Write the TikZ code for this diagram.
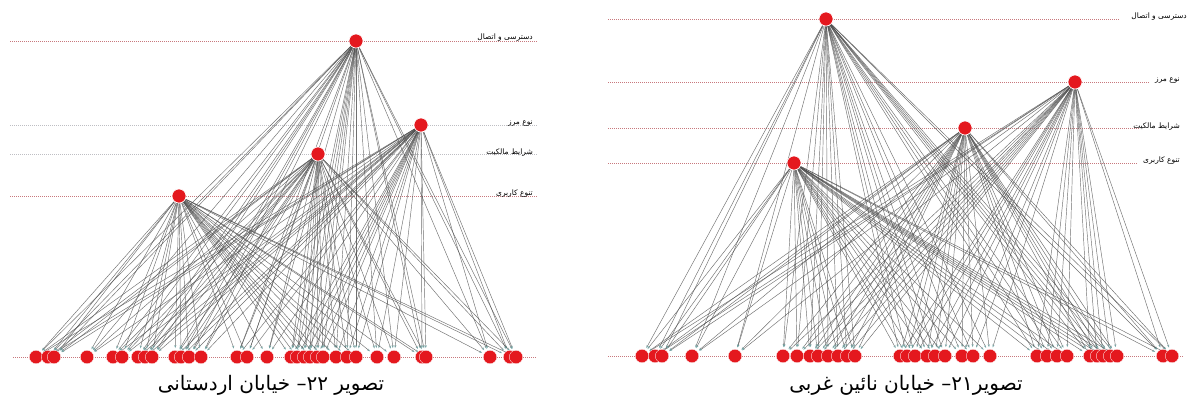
\documentclass[tikz,border=0pt]{standalone}
\usepackage{fontspec}
\newfontfamily\arabicfont[Script=Arabic]{DejaVu Sans}
\TeXXeTstate=1
\usetikzlibrary{arrows.meta,backgrounds}
\definecolor{nodered}{RGB}{228,24,30}
\definecolor{lvlred}{RGB}{200,120,125}
\definecolor{lvlgray}{RGB}{190,190,195}
\definecolor{tipcol}{RGB}{110,160,160}
\tikzset{
  bnode/.style={circle,fill=nodered,draw=white,line width=0.3pt,minimum size=13.5pt,inner sep=0pt},
  hub/.style={circle,fill=nodered,draw=white,line width=0.6pt,minimum size=14pt,inner sep=0pt},
  link/.style={draw=black!70,line width=0.45pt,opacity=0.8,-{Stealth[length=3pt,width=2.2pt,color=tipcol]},shorten >=2pt},
  lvlr/.style={draw=lvlred,line width=0.6pt,dash pattern=on 1pt off 1pt},
  lvlg/.style={draw=lvlgray,line width=0.6pt,dash pattern=on 1pt off 1pt},
  lab/.style={font=\arabicfont\fontsize{7.5}{9}\selectfont,inner sep=1pt,anchor=east},
  captext/.style={font=\arabicfont\fontsize{20}{24}\selectfont,inner sep=0pt}
}
\begin{document}
\begin{tikzpicture}[x=1pt,y=-1pt]
\useasboundingbox (0,0) rectangle (1189,410);
% ---------- left diagram ----------
\node[hub] (LA) at (356,41) {};
\node[hub] (LB) at (421,125) {};
\node[hub] (LC) at (318,154) {};
\node[hub] (LD) at (179,196) {};
\foreach \x [count=\i] in {36,48,54,87,113,122,138,145,152,175,181,189,201,237,247,267,291,297,304,310,317,323,336,347,356,377,394,422,426,490,510,516}
  \node[bnode] (L\i) at (\x,357) {};
\coordinate (LAa) at (10,41);   \coordinate (LAb) at (537,41);
\coordinate (LBa) at (10,125);  \coordinate (LBb) at (537,125);
\coordinate (LCa) at (10,154);  \coordinate (LCb) at (537,154);
\coordinate (LDa) at (10,196);  \coordinate (LDb) at (537,196);
\coordinate (LEa) at (13,357);  \coordinate (LEb) at (537,357);
\node[lab] (tLA) at (534,38) {\beginR دسترسی و اتصال\endR};
\node[lab] (tLB) at (534,123) {\beginR نوع مرز\endR};
\node[lab] (tLC) at (534,153) {\beginR شرایط مالکیت\endR};
\node[lab] (tLD) at (534,194) {\beginR تنوع کاربری\endR};
% ---------- right diagram ----------
\node[hub] (RA) at (826,19) {};
\node[hub] (RB) at (1075,82) {};
\node[hub] (RC) at (965,128) {};
\node[hub] (RD) at (794,163) {};
\foreach \x [count=\i] in {642,655,662,692,735,783,797,810,818,828,838,847,855,900,907,915,927,935,945,962,973,990,1037,1047,1057,1067,1090,1097,1103,1110,1117,1163,1172}
  \node[bnode] (R\i) at (\x,356) {};
\coordinate (RAa) at (608,19);   \coordinate (RAb) at (1120,19);
\coordinate (RBa) at (608,82);   \coordinate (RBb) at (1150,82);
\coordinate (RCa) at (608,128);  \coordinate (RCb) at (1140,128);
\coordinate (RDa) at (608,163);  \coordinate (RDb) at (1138,163);
\coordinate (REa) at (608,356);  \coordinate (REb) at (1183,356);
\node[lab] (tRA) at (1188,17) {\beginR دسترسی و اتصال\endR};
\node[lab] (tRB) at (1181,80) {\beginR نوع مرز\endR};
\node[lab] (tRC) at (1181,127) {\beginR شرایط مالکیت\endR};
\node[lab] (tRD) at (1181,161) {\beginR تنوع کاربری\endR};
% ---------- captions ----------
\node[captext] (capL) at (271,385) {\beginR تصویر \beginL۲۲\endL– خیابان اردستانی\endR};
\node[captext] (capR) at (906,385) {\beginR تصویر\beginL۲۱\endL– خیابان نائین غربی\endR};
% ---------- background: level lines and links ----------
\begin{pgfonlayer}{background}
  \fill[white] (0,0) rectangle (1189,410);
  \draw[lvlr] (LAa) -- (LAb);
  \draw[lvlg] (LBa) -- (LBb);
  \draw[lvlg] (LCa) -- (LCb);
  \draw[lvlr] (LDa) -- (LDb);
  \draw[lvlr] (LEa) -- (LEb);
  \draw[lvlr] (RAa) -- (RAb);
  \draw[lvlr] (RBa) -- (RBb);
  \draw[lvlr] (RCa) -- (RCb);
  \draw[lvlr] (RDa) -- (RDb);
  \draw[lvlr] (REa) -- (REb);
  \foreach \h in {LA,LB,LC,LD}
    \foreach \i in {1,...,32}
      \draw[link] (\h) -- (L\i);
  \foreach \h in {RA,RB,RC,RD}
    \foreach \i in {1,...,33}
      \draw[link] (\h) -- (R\i);
\end{pgfonlayer}
\end{tikzpicture}
\end{document}
